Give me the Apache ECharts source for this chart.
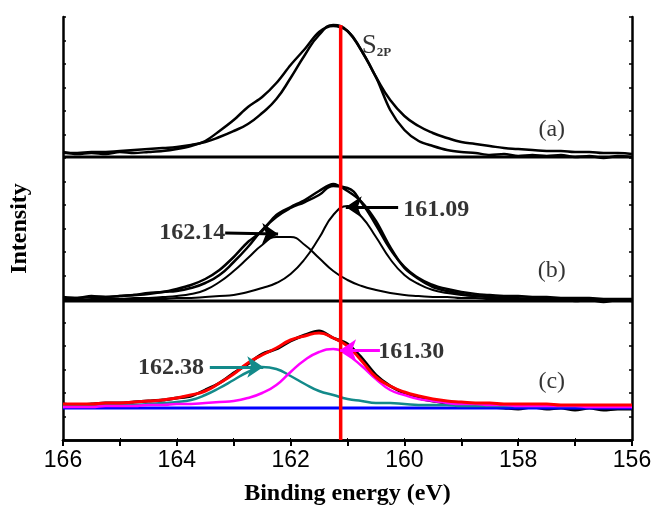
<!DOCTYPE html>
<html>
<head>
<meta charset="utf-8">
<script src="https://cdn.jsdelivr.net/npm/echarts@6/dist/echarts.min.js"></script>
<style>
html, body { margin: 0; padding: 0; background: #fff; }
#chart { width: 657px; height: 513px; }
</style>
</head>
<body>
<div id="chart"></div>
<script>
// binding energy grid (eV)
var energy = [166, 165.75, 165.5, 165.25, 165, 164.75, 164.5, 164.25, 164, 163.75, 163.5, 163.25, 163, 162.75, 162.5, 162.25, 162, 161.75, 161.5, 161.25, 161, 160.75, 160.5, 160.25, 160, 159.75, 159.5, 159.25, 159, 158.75, 158.5, 158.25, 158, 157.75, 157.5, 157.25, 157, 156.75, 156.5, 156.25, 156];

// vertical offsets of the three stacked spectra
var offsetA = 283, offsetB = 139, offsetC = 32;

// (a)
var rawA = [5, 3, 4, 3, 5, 4, 5, 6, 8, 11, 16, 26, 37, 50, 60, 74, 92, 108, 125, 131, 126, 106, 80, 47, 27, 16, 11, 7, 5, 4, 2, 3, 1, 2, 1, 2, 0, 1, -1, 1, 0];
var fitA = [4, 4, 5, 5, 6, 7, 8, 9, 10, 12, 15, 20, 26, 33, 44, 58, 79, 102, 122, 132, 126, 106, 80, 57, 41, 31, 24, 19, 15, 13, 11, 9, 8, 7, 6, 6, 5, 5, 4, 4, 3];

// (b)
var rawB = [4, 3, 5, 4, 5, 6, 8, 9, 12, 16, 22, 31, 44, 59, 70, 86, 94, 101, 110, 117, 110, 99, 80, 54, 33, 22, 14, 10, 7, 5, 4, 3, 2, 3, 1, 2, 0, 1, -1, 1, 0];
var envB = [3, 3, 4, 4, 5, 6, 7, 9, 10, 13, 18, 26, 39, 54, 71, 84, 93, 99, 106, 115, 113, 98, 76, 52, 34, 23, 16, 12, 9, 7, 6, 5, 5, 4, 4, 3, 3, 3, 2, 2, 2];
var peakB1 = [1, 1, 2, 2, 2, 3, 3, 4, 5, 7, 11, 19, 30, 43, 56, 64, 64, 56, 43, 30, 21, 15, 11, 8, 6, 5, 4, 4, 3, 3, 2, 2, 2, 2, 1, 1, 1, 1, 1, 1, 1];
var peakB2 = [1, 1, 1, 1, 1, 2, 2, 2, 3, 3, 4, 5, 6, 9, 13, 18, 27, 42, 63, 86, 95, 84, 64, 42, 26, 17, 11, 8, 6, 5, 4, 3, 3, 2, 2, 2, 2, 1, 1, 1, 1];

// (c)
var rawC = [4, 3, 4, 5, 5, 6, 7, 8, 10, 12, 18, 25, 35, 44, 54, 59, 67, 73, 77, 70, 64, 50, 33, 22, 15, 10, 7, 5, 3, 2, 1, 0, -1, 1, -1, 0, -2, 0, -2, -1, -1];
var envC = [4, 4, 4, 5, 5, 6, 7, 8, 10, 13, 17, 25, 34, 45, 53, 60, 68, 72, 75, 70, 62, 47, 31, 22, 16, 12, 9, 7, 6, 5, 5, 4, 4, 4, 4, 3, 3, 3, 3, 3, 3];
var peakC1 = [2, 2, 2, 3, 3, 3, 4, 5, 6, 8, 13, 20, 28, 36, 41, 39, 32, 24, 17, 13, 9, 7, 5, 5, 4, 3, 3, 3, 2, 2, 2, 2, 2, 2, 2, 2, 2, 2, 2, 2, 2];
var peakC2 = [1, 1, 1, 2, 2, 2, 3, 3, 4, 4, 5, 6, 7, 10, 15, 23, 36, 48, 56, 59, 53, 42, 29, 18, 13, 9, 7, 5, 4, 4, 3, 3, 2, 2, 2, 2, 2, 1, 1, 1, 1];

// S2p reference position (vertical red line)
var s2pEnergy = 161.12;
var s2pTop = 415;

// peak annotations: text, label position, arrow start, arrow tip
var noteText = ['162.14', '161.09', '162.38', '161.30'];
var noteLabelE = [163.73, 159.44, 164.10, 159.88];
var noteLabelH = [207, 230, 72, 88];
var arrowFrom = [[163.15, 207], [160.11, 233], [163.42, 73], [160.43, 90]];
var arrowTo = [[162.22, 206], [161.03, 233], [162.48, 73], [161.13, 90]];
var arrowColor = ['#000000', '#000000', '#138a8a', '#ff00ff'];

var panelText = ['(a)', '(b)', '(c)'];
var panelLabelE = 157.41;
var panelLabelH = [310, 169, 58];

var serif = '"Liberation Serif", "Times New Roman", serif';

function shifted(vals, off) {
    return energy.map(function (e, i) { return [e, vals[i] + off]; });
}
function flat(off) {
    return [[166, off], [156, off]];
}

function curve(vals, off, color, width, z, smooth) {
    return {
        type: 'line',
        data: shifted(vals, off),
        showSymbol: false,
        smooth: smooth === undefined ? 0.5 : smooth,
        lineStyle: { color: color, width: width },
        z: z,
        silent: true
    };
}

var series = [
    { type: 'line', data: flat(offsetA), showSymbol: false, lineStyle: { color: '#000', width: 3 }, z: 2 },
    curve(fitA, offsetA, '#000', 2.5, 3),
    curve(rawA, offsetA, '#000', 2.5, 3, 0.3),

    { type: 'line', data: flat(offsetB), showSymbol: false, lineStyle: { color: '#000', width: 3 }, z: 2 },
    curve(peakB1, offsetB, '#000', 2, 3),
    curve(peakB2, offsetB, '#000', 2, 3),
    curve(envB, offsetB, '#000', 2.5, 3),
    curve(rawB, offsetB, '#000', 2.5, 3, 0.3),

    curve(rawC, offsetC, '#000', 3, 3, 0.3),
    { type: 'line', data: flat(offsetC), showSymbol: false, lineStyle: { color: '#0000ff', width: 3 }, z: 3 },
    curve(peakC1, offsetC, '#138a8a', 2.5, 4),
    curve(peakC2, offsetC, '#ff00ff', 2.5, 4),
    curve(envC, offsetC, '#ff0000', 3, 5),

    {
        type: 'line',
        data: [[s2pEnergy, 0], [s2pEnergy, s2pTop]],
        showSymbol: false,
        lineStyle: { color: '#ff0000', width: 3.5 },
        z: 6
    }
];

noteText.forEach(function (t, i) {
    series.push({
        type: 'lines',
        coordinateSystem: 'cartesian2d',
        symbol: ['none', 'arrow'],
        symbolSize: 16,
        lineStyle: { color: arrowColor[i], width: 3, opacity: 1 },
        data: [{ coords: [arrowFrom[i], arrowTo[i]] }],
        z: 7
    });
});

series.push({
    type: 'scatter',
    symbolSize: 0,
    data: noteText.map(function (t, i) { return [noteLabelE[i], noteLabelH[i], t]; }),
    label: {
        show: true,
        position: 'inside',
        formatter: function (p) { return p.data[2]; },
        fontFamily: serif,
        fontWeight: 'bold',
        fontSize: 24,
        color: '#000'
    },
    z: 8
});

series.push({
    type: 'scatter',
    symbolSize: 0,
    data: panelText.map(function (t, i) { return [panelLabelE, panelLabelH[i], t]; }),
    label: {
        show: true,
        position: 'inside',
        formatter: function (p) { return p.data[2]; },
        fontFamily: serif,
        fontSize: 24,
        color: '#000'
    },
    z: 8
});

series.push({
    type: 'scatter',
    symbolSize: 0,
    data: [[160.75, 396]],
    label: {
        show: true,
        position: 'right',
        distance: 0,
        formatter: '{s|S}{sub|2P}',
        rich: {
            s: { fontFamily: serif, fontSize: 27, color: '#000', verticalAlign: 'bottom', lineHeight: 30 },
            sub: { fontFamily: serif, fontSize: 13, fontWeight: 'bold', color: '#000', verticalAlign: 'bottom', lineHeight: 14, padding: [16, 0, 0, 0] }
        }
    },
    z: 8
});

var chart = echarts.init(document.getElementById('chart'));
chart.setOption({
    animation: false,
    backgroundColor: '#fff',
    grid: { left: 63, right: 25, top: 17, bottom: 73 },
    xAxis: [
        {
            type: 'value',
            min: 156,
            max: 166,
            interval: 1,
            inverse: true,
            position: 'bottom',
            name: 'Binding energy (eV)',
            nameLocation: 'middle',
            nameGap: 42,
            nameTextStyle: { fontFamily: serif, fontWeight: 'bold', fontSize: 24, color: '#000' },
            axisLine: { lineStyle: { color: '#000', width: 2.5 } },
            axisTick: { inside: false, length: 6, lineStyle: { color: '#000', width: 2 } },
            axisLabel: {
                color: '#000',
                fontFamily: '"Liberation Sans Narrow", "Liberation Sans", Arial, sans-serif',
                fontSize: 23,
                margin: 9,
                formatter: function (v) { return v % 2 === 0 ? v : ''; }
            },
            splitLine: { show: false }
        },
        {
            type: 'value',
            min: 156,
            max: 166,
            interval: 1,
            inverse: true,
            position: 'top',
            axisLine: { lineStyle: { color: '#000', width: 2.5 } },
            axisTick: { inside: false, length: 2, lineStyle: { color: '#000', width: 1 } },
            axisLabel: { show: false },
            splitLine: { show: false }
        }
    ],
    yAxis: [
        {
            type: 'value',
            min: 0,
            max: 423,
            interval: 23.5,
            position: 'left',
            name: 'Intensity',
            nameLocation: 'middle',
            nameGap: 31,
            nameTextStyle: { fontFamily: serif, fontWeight: 'bold', fontSize: 24, color: '#000' },
            axisLine: { show: true, lineStyle: { color: '#000', width: 2.5 } },
            axisTick: { show: true, inside: true, length: 3, lineStyle: { color: '#000', width: 1.5 } },
            axisLabel: { show: false },
            splitLine: { show: false }
        },
        {
            type: 'value',
            min: 0,
            max: 423,
            interval: 23.5,
            position: 'right',
            axisLine: { show: true, lineStyle: { color: '#000', width: 2.5 } },
            axisTick: { show: true, inside: true, length: 3, lineStyle: { color: '#000', width: 1.5 } },
            axisLabel: { show: false },
            splitLine: { show: false }
        }
    ],
    series: series
});
</script>
</body>
</html>
